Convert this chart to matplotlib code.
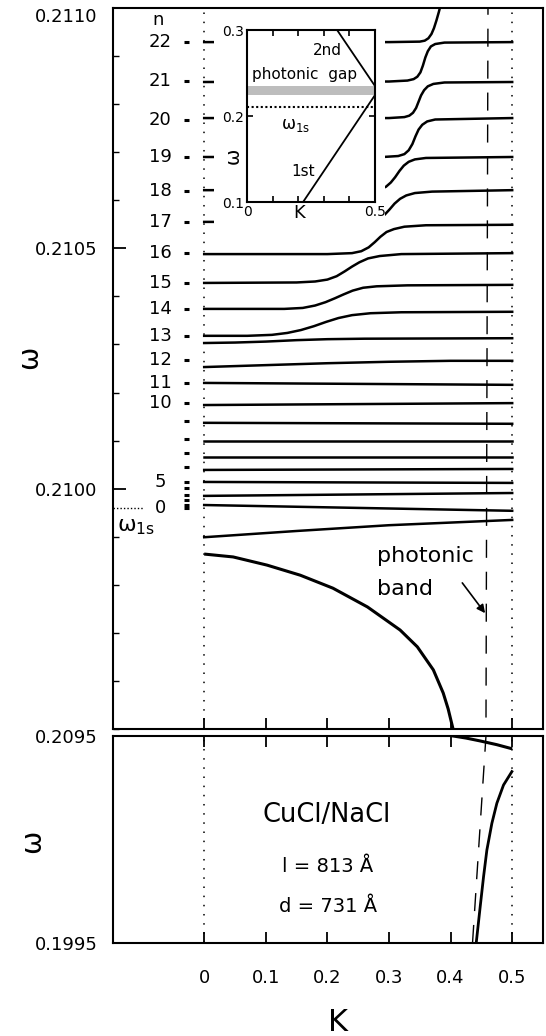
import numpy as np
import matplotlib.pyplot as plt
from matplotlib.patches import Rectangle
from matplotlib.ticker import MultipleLocator, FormatStrFormatter

plt.rcParams['font.family'] = ['DejaVu Sans']
plt.rcParams['mathtext.fontset'] = 'dejavusans'

# uncoupled exciton levels n = 0..22 (marks left of K=0)
n_values = list(range(23))
n_levels = [0.209960, 0.209966, 0.209976, 0.209987, 0.210001, 0.210014, 0.210045,
            0.210074, 0.210103, 0.210141, 0.210178, 0.210220, 0.210268, 0.210318,
            0.210374, 0.210428, 0.210490, 0.210555, 0.210619, 0.210690, 0.210767,
            0.210848, 0.210929]
n_labelled = [22, 21, 20, 19, 18, 17, 16, 15, 14, 13, 12, 11, 10, 5, 0]
w1s = 0.20996

# polariton branches in the upper panel (K, omega)
branches = [
    ([0, 0.30, 0.350, 0.358, 0.364, 0.369, 0.373, 0.377, 0.381, 0.385],
     [0.210929, 0.210929, 0.210930, 0.210932, 0.210937, 0.210946, 0.210958, 0.210974, 0.210992, 0.211012]),
    ([0, 0.30, 0.330, 0.340, 0.346, 0.351, 0.355, 0.359, 0.363, 0.368, 0.375, 0.39, 0.5],
     [0.210846, 0.210847, 0.210849, 0.210852, 0.210857, 0.210866, 0.210880, 0.210897, 0.210910, 0.210920, 0.210925, 0.210928, 0.210929]),
    ([0, 0.30, 0.325, 0.333, 0.339, 0.344, 0.348, 0.352, 0.357, 0.363, 0.372, 0.39, 0.5],
     [0.210771, 0.210771, 0.210773, 0.210776, 0.210782, 0.210792, 0.210805, 0.210818, 0.210829, 0.210837, 0.210842, 0.210845, 0.210846]),
    ([0, 0.29, 0.315, 0.325, 0.332, 0.338, 0.343, 0.348, 0.354, 0.362, 0.375, 0.5],
     [0.210690, 0.210690, 0.210692, 0.210696, 0.210704, 0.210717, 0.210733, 0.210747, 0.210757, 0.210764, 0.210768, 0.210771]),
    ([0, 0.27, 0.285, 0.295, 0.303, 0.310, 0.317, 0.324, 0.332, 0.342, 0.36, 0.5],
     [0.210621, 0.210621, 0.210623, 0.210628, 0.210637, 0.210648, 0.210661, 0.210672, 0.210680, 0.210685, 0.210688, 0.210690]),
    ([0, 0.25, 0.270, 0.283, 0.293, 0.301, 0.309, 0.318, 0.328, 0.342, 0.37, 0.5],
     [0.210555, 0.210555, 0.210557, 0.210562, 0.210570, 0.210581, 0.210593, 0.210603, 0.210610, 0.210615, 0.210618, 0.210621]),
    ([0, 0.20, 0.24, 0.255, 0.267, 0.277, 0.286, 0.296, 0.308, 0.325, 0.36, 0.5],
     [0.210488, 0.210488, 0.210490, 0.210494, 0.210502, 0.210513, 0.210524, 0.210534, 0.210540, 0.210545, 0.210548, 0.210549]),
    ([0, 0.15, 0.18, 0.200, 0.215, 0.228, 0.240, 0.252, 0.266, 0.285, 0.32, 0.5],
     [0.210428, 0.210429, 0.210431, 0.210435, 0.210442, 0.210452, 0.210462, 0.210471, 0.210479, 0.210484, 0.210488, 0.210490]),
    ([0, 0.13, 0.16, 0.180, 0.197, 0.212, 0.226, 0.241, 0.258, 0.28, 0.33, 0.5],
     [0.210374, 0.210374, 0.210376, 0.210381, 0.210388, 0.210396, 0.210404, 0.210412, 0.210418, 0.210421, 0.210423, 0.210424]),
    ([0, 0.07, 0.11, 0.135, 0.157, 0.178, 0.198, 0.218, 0.24, 0.27, 0.32, 0.5],
     [0.210318, 0.210318, 0.210320, 0.210324, 0.210330, 0.210338, 0.210347, 0.210355, 0.210361, 0.210365, 0.210367, 0.210368]),
    ([0, 0.05, 0.10, 0.15, 0.20, 0.26, 0.5],
     [0.210303, 0.210304, 0.210306, 0.210309, 0.210311, 0.210312, 0.210313]),
    ([0, 0.10, 0.20, 0.30, 0.40, 0.5],
     [0.210253, 0.210257, 0.210261, 0.210264, 0.210266, 0.210266]),
    ([0, 0.25, 0.5], [0.210220, 0.210218, 0.210216]),
    ([0, 0.25, 0.5], [0.210174, 0.210176, 0.210178]),
    ([0, 0.25, 0.5], [0.210137, 0.210136, 0.210135]),
    ([0, 0.25, 0.5], [0.210099, 0.210099, 0.210099]),
    ([0, 0.25, 0.5], [0.210066, 0.210066, 0.210066]),
    ([0, 0.25, 0.5], [0.210039, 0.210040, 0.210041]),
    ([0, 0.25, 0.5], [0.210014, 0.210013, 0.210012]),
    ([0, 0.25, 0.5], [0.209985, 0.209988, 0.209991]),
    ([0, 0.25, 0.5], [0.209966, 0.209960, 0.209954]),
    ([0, 0.15, 0.30, 0.5], [0.209899, 0.209912, 0.209924, 0.209935]),
]

# lowest branch, runs through both panels
low_K = [0, 0.047, 0.102, 0.156, 0.209, 0.265, 0.318, 0.346, 0.372, 0.388, 0.396, 0.404,
         0.425, 0.448, 0.475, 0.5]
low_w = [0.209864, 0.209858, 0.209841, 0.209820, 0.209793, 0.209754, 0.209706,
         0.209671, 0.209623, 0.209575, 0.209542, 0.2095, 0.20940, 0.20926, 0.20908, 0.20888]

# photon-like branch in the lower panel
up_K = [0.4416, 0.448, 0.4535, 0.4589, 0.467, 0.4751, 0.4859, 0.4995]
up_w = [0.1995, 0.20124, 0.20270, 0.20399, 0.20528, 0.20625, 0.20713, 0.20778]

# light line (dashed)
light_K = [0.4356, 0.4607]
light_w = [0.1995, 0.2110]

# inset
in_first_K = [0.219, 0.5]
in_first_w = [0.1, 0.2244]
in_second_K = [0.352, 0.5]
in_second_w = [0.3, 0.2349]
in_gap = [0.2244, 0.2349]
in_w1s = 0.2105

xticks = [0, 0.1, 0.2, 0.3, 0.4, 0.5]
xticklabels = ['0', '0.1', '0.2', '0.3', '0.4', '0.5']

fig = plt.figure(figsize=(5.46, 10.36), dpi=100)
ax = fig.add_axes([0.2070, 0.2963, 0.7875, 0.6960])
axb = fig.add_axes([0.2070, 0.0898, 0.7875, 0.1998])

dots = (0, (1, 5))
for a in (ax, axb):
    a.set_xlim(-0.148, 0.55)
    a.axvline(0, color='k', ls=dots, lw=1.1)
    a.axvline(0.5, color='k', ls=dots, lw=1.1)
    a.plot(light_K, light_w, color='k', lw=1.0, dashes=(13, 10))
    a.plot(low_K, low_w, color='k', lw=2.2, solid_capstyle='butt', solid_joinstyle='round')
    a.set_xticks(xticks)
    for s in a.spines.values():
        s.set_linewidth(1.5)

for bk, bw in branches:
    ax.plot(bk, bw, color='k', lw=1.8, solid_joinstyle='round')
axb.plot(up_K, up_w, color='k', lw=2.0, solid_joinstyle='round')

# top panel axes
ax.set_ylim(0.2095, 0.2110)
ax.set_yticks([0.2100, 0.2105, 0.2110])
ax.yaxis.set_major_formatter(FormatStrFormatter('%.4f'))
ax.yaxis.set_minor_locator(MultipleLocator(0.0001))
ax.tick_params(axis='y', which='major', direction='in', length=9, width=1.3,
               labelsize=13, pad=11)
ax.tick_params(axis='y', which='minor', direction='in', length=4, width=1.0)
ax.tick_params(axis='x', direction='in', length=8, width=1.3, labelbottom=False)
ax.get_yticklabels()[-1].set_va('top')

# bottom panel axes
axb.set_ylim(0.1995, 0.2095)
axb.set_yticks([0.1995, 0.2095])
axb.yaxis.set_major_formatter(FormatStrFormatter('%.4f'))
axb.tick_params(axis='y', direction='in', length=0, labelsize=13, pad=11)
axb.set_xticklabels(xticklabels)
axb.tick_params(axis='x', direction='in', top=True, length=8, width=1.3,
                labelsize=13, pad=19)

# n level marks and labels
ax.hlines(n_levels, -0.0325, -0.0244, color='k', lw=2.2)
for n, lev in zip(n_values, n_levels):
    if n in n_labelled:
        ax.text(-0.0714, lev, str(n), ha='center', va='center', fontsize=13)
ax.text(-0.0747, 0.210975, 'n', ha='center', va='center', fontsize=13)

ax.plot([-0.148, -0.10], [w1s, w1s], color='k', ls=(0, (1, 1.5)), lw=1.0, clip_on=False)
ax.text(-0.141, 0.209920, 'ω$_{\\mathrm{1s}}$', ha='left', va='center', fontsize=16)

ax.text(0.281, 0.209847, 'photonic', fontsize=16, va='baseline')
ax.text(0.281, 0.209779, 'band', fontsize=16, va='baseline')
ax.annotate('', xy=(0.456, 0.209741), xytext=(0.419, 0.209804),
            arrowprops=dict(arrowstyle='-|>', color='k', lw=1.2,
                            mutation_scale=12, shrinkA=0, shrinkB=0))

axb.text(0.198, 0.20535, 'CuCl/NaCl', ha='center', va='baseline', fontsize=18.5)
axb.text(0.201, 0.20293, 'l = 813 Å', ha='center', va='baseline', fontsize=14)
axb.text(0.201, 0.20100, 'd = 731 Å', ha='center', va='baseline', fontsize=14)

fig.text(0.619, 0.0135, 'K', ha='center', va='center', fontsize=22)
fig.text(0.053, 0.6554, 'ω', ha='center', va='center', fontsize=20, rotation=90)
fig.text(0.0586, 0.1882, 'ω', ha='center', va='center', fontsize=20, rotation=90)

# white area behind the inset
ax.add_patch(Rectangle((0.3919, 0.7790), 0.3132, 0.1979, transform=fig.transFigure,
                       facecolor='white', edgecolor='none', zorder=3, clip_on=False))

# inset
axi = fig.add_axes([0.4524, 0.8050, 0.2344, 0.1660])
axi.set_zorder(2)
axi.set_xlim(0, 0.5)
axi.set_ylim(0.1, 0.3)
axi.fill_between([0, 0.5], in_gap[0], in_gap[1], color='#bdbdbd', lw=0)
axi.plot([0, 0.5], [in_w1s, in_w1s], color='k', ls=(0, (1, 1.2)), lw=1.5)
axi.plot(in_first_K, in_first_w, color='k', lw=1.3)
axi.plot(in_second_K, in_second_w, color='k', lw=1.3)
axi.set_xticks(xticks)
axi.set_xticklabels(['0', '', '', '', '', '0.5'])
axi.set_yticks([0.1, 0.2, 0.3])
axi.set_yticklabels(['0.1', '0.2', '0.3'])
axi.tick_params(direction='in', top=True, right=True, length=4, width=1.2,
                labelsize=10, pad=2)
for s in axi.spines.values():
    s.set_linewidth(1.5)
axi.text(0.3125, 0.2767, '2nd', ha='center', va='center', fontsize=11)
axi.text(0.2266, 0.2488, 'photonic  gap', ha='center', va='center', fontsize=11)
axi.text(0.1875, 0.1895, 'ω$_{\\mathrm{1s}}$', ha='center', va='center', fontsize=12)
axi.text(0.219, 0.135, '1st', ha='center', va='center', fontsize=11)
axi.text(0.41, -0.064, 'K', transform=axi.transAxes, ha='center', va='center', fontsize=13)
axi.text(-0.11, 0.27, 'ω', transform=axi.transAxes, ha='center', va='center',
         fontsize=14, rotation=90)

fig.savefig('out.png', dpi=100)
